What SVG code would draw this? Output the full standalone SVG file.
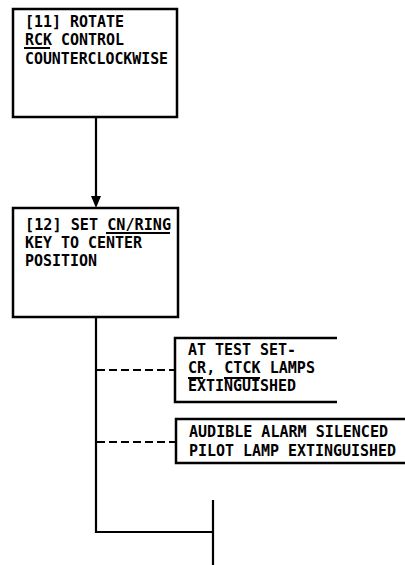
<svg xmlns="http://www.w3.org/2000/svg" width="405" height="565" viewBox="0 0 405 565">
<style>
.box{fill:none;stroke:#000;stroke-width:2.5}
.ln{fill:none;stroke:#000;stroke-width:2.2}
.dash{fill:none;stroke:#000;stroke-width:2.2;stroke-dasharray:8,4}
.ul{stroke:#000;stroke-width:2}
text{font-family:"DejaVu Sans Mono","Liberation Mono",monospace;font-weight:bold;font-size:16px;fill:#000}
</style>
<rect width="405" height="565" fill="#fff"/>
<g id="connectors">
<line class="ln" x1="96" y1="117" x2="96" y2="198"/>
<polygon points="91,196 101,196 96,208" fill="#000"/>
<polyline class="ln" points="96,317 96,532 213,532"/>
<line class="ln" x1="213" y1="500" x2="213" y2="565"/>
<line class="dash" x1="97" y1="370" x2="175" y2="370"/>
<line class="dash" x1="97" y1="442" x2="176" y2="442"/>
</g>
<g id="node11">
<rect class="box" x="13" y="9" width="164" height="108"/>
<text x="25" y="27" textLength="99" lengthAdjust="spacingAndGlyphs">[11] ROTATE</text>
<text x="25" y="45" textLength="99" lengthAdjust="spacingAndGlyphs">RCK CONTROL</text>
<line class="ul" x1="24" y1="48" x2="50" y2="48"/>
<text x="25" y="64" textLength="143" lengthAdjust="spacingAndGlyphs">COUNTERCLOCKWISE</text>
</g>
<g id="node12">
<rect class="box" x="13" y="208" width="165" height="109"/>
<text x="25" y="230" textLength="146" lengthAdjust="spacingAndGlyphs">[12] SET CN/RING</text>
<line class="ul" x1="106" y1="233" x2="170" y2="233"/>
<text x="25" y="248" textLength="117" lengthAdjust="spacingAndGlyphs">KEY TO CENTER</text>
<text x="25" y="266" textLength="72" lengthAdjust="spacingAndGlyphs">POSITION</text>
</g>
<g id="note1">
<path class="box" d="M337,338 H175 V402 H337"/>
<text x="188" y="355" textLength="108" lengthAdjust="spacingAndGlyphs">AT TEST SET-</text>
<text x="188" y="373" textLength="127" lengthAdjust="spacingAndGlyphs">CR, CTCK LAMPS</text>
<line class="ul" x1="188" y1="378" x2="203" y2="378"/>
<line class="ul" x1="224" y1="378" x2="260" y2="378"/>
<text x="188" y="391" textLength="108" lengthAdjust="spacingAndGlyphs">EXTINGUISHED</text>
</g>
<g id="note2">
<path class="box" d="M405,419 H176 V463 H405"/>
<text x="189" y="437" textLength="199" lengthAdjust="spacingAndGlyphs">AUDIBLE ALARM SILENCED</text>
<text x="189" y="456" textLength="207" lengthAdjust="spacingAndGlyphs">PILOT LAMP EXTINGUISHED</text>
</g>
</svg>
